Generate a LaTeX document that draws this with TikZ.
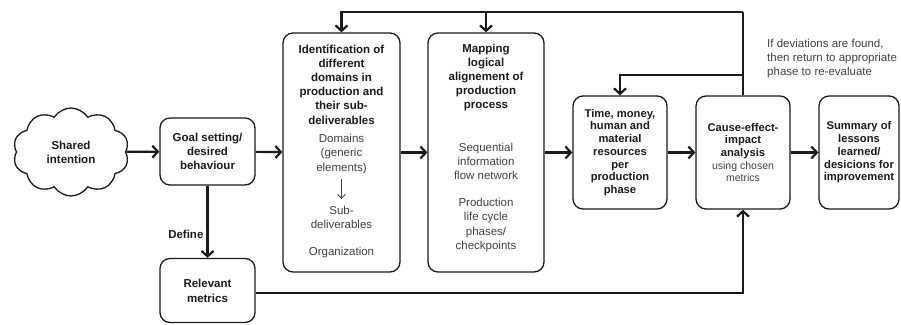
\documentclass[tikz,border=0pt]{standalone}
\usepackage{fontspec}
\setmainfont{Liberation Sans}
\usetikzlibrary{shapes.symbols,arrows.meta}
\definecolor{boxline}{HTML}{1A1A1A}
\definecolor{softtext}{HTML}{404040}
\newcommand{\plainsmall}[1]{{\mdseries\color{softtext}\fontsize{10.5}{12.5}\selectfont #1}}

\begin{document}
\begin{tikzpicture}[x=1pt, y=-1pt,
  >={Straight Barb[length=5.5pt,width=12pt]},
  stage/.style={draw=boxline, line width=1.3pt, rounded corners=10pt, align=center,
    text=boxline, font=\bfseries\fontsize{11.2}{12.7}\selectfont},
  headtext/.style={inner sep=0pt, align=center, text=boxline, font=\bfseries\fontsize{11.5}{14.2}\selectfont},
  bodytext/.style={inner sep=0pt, align=center, text=softtext, font=\fontsize{11.5}{14.2}\selectfont},
  flow/.style={draw=boxline, line width=2.2pt, ->}]
  \useasboundingbox (0,0) rectangle (901,324);
  % Nodes
  \node[cloud, cloud puffs=10, cloud puff arc=115, draw=boxline, line width=1.3pt,
    minimum width=116pt, minimum height=88pt, align=center, text=boxline,
    font=\bfseries\fontsize{11.5}{14}\selectfont] (shared) at (71,152) {Shared\\intention};
  \node[stage, minimum width=95pt, minimum height=67pt,
    font=\bfseries\fontsize{11.5}{14.2}\selectfont] (goal) at (207.5,151.5) {Goal setting/\\desired\\behaviour};
  \node[stage, minimum width=95pt, minimum height=64pt,
    font=\bfseries\fontsize{11.5}{15}\selectfont] (metrics) at (207.5,290.5) {Relevant\\metrics};
  \node[stage, minimum width=117pt, minimum height=239pt] (ident) at (341.5,152.5) {};
  \node[stage, minimum width=116pt, minimum height=239pt] (mapping) at (486,152.5) {};
  \node[stage, minimum width=94pt, minimum height=113pt] (time) at (620,152.5)
    {Time, money,\\human and\\material\\resources\\per\\production\\phase};
  \node[stage, minimum width=94pt, minimum height=113pt] (cause) at (743,152.5)
    {Cause-effect-\\impact\\analysis\\\plainsmall{using chosen}\\\plainsmall{metrics}};
  \node[stage, minimum width=80pt, minimum height=113pt] (summary) at (859,152.5)
    {Summary of\\lessons\\learned/\\desicions for\\improvement};
  % Texts in the two tall boxes
  \node[headtext] (identhead) at (341.5,84.5) {Identification of\\different\\domains in\\production and\\their sub-\\deliverables};
  \node[bodytext] (domains) at (341.5,154) {Domains\\(generic\\elements)};
  \node[bodytext] (subdel) at (341.5,217.5) {Sub-\\deliverables};
  \node[bodytext] (org) at (341.5,253) {Organization};
  \node[headtext] (maphead) at (486,77.5) {Mapping\\logical\\alignement of\\production\\process};
  \node[bodytext] (mapseq) at (486,161.5) {Sequential\\information\\flow network};
  \node[bodytext] (mapprod) at (486,225) {Production\\life cycle\\phases/\\checkpoints};
  \node[bodytext, align=left, anchor=west] (note) at (767,58.5)
    {If deviations are found,\\then return to appropriate\\phase to re-evaluate};
  \coordinate (fbtop) at (743,12);
  \coordinate (fbmid) at (743,75);
  \coordinate (fbbot) at (743,293);
  % Connections
  \draw[flow] (shared) -- (goal);
  \draw[flow] (goal) -- (ident);
  \draw[flow] (ident) -- (mapping);
  \draw[flow] (mapping) -- (time);
  \draw[flow] (time) -- (cause);
  \draw[flow] (cause) -- (summary);
  \draw[flow] (goal) -- node[pos=0.68, left, inner sep=3pt, text=boxline,
    font=\bfseries\fontsize{11.5}{14}\selectfont] {Define} (metrics);
  \draw[flow] (metrics.east |- fbbot) -- (fbbot) -- (cause.south);
  % Feedback (re-evaluate)
  \draw[flow, -] (cause.north) -- (fbtop);
  \draw[flow] (fbtop) -| (ident.north);
  \draw[flow] (fbtop -| mapping) -- (mapping.north);
  \draw[flow] (fbmid) -| (time.north);
  \draw[draw=softtext, line width=1pt, ->, >={Straight Barb[length=4pt,width=8pt]},
    shorten <=5pt, shorten >=7pt] (domains) -- (subdel);
\end{tikzpicture}
\end{document}
